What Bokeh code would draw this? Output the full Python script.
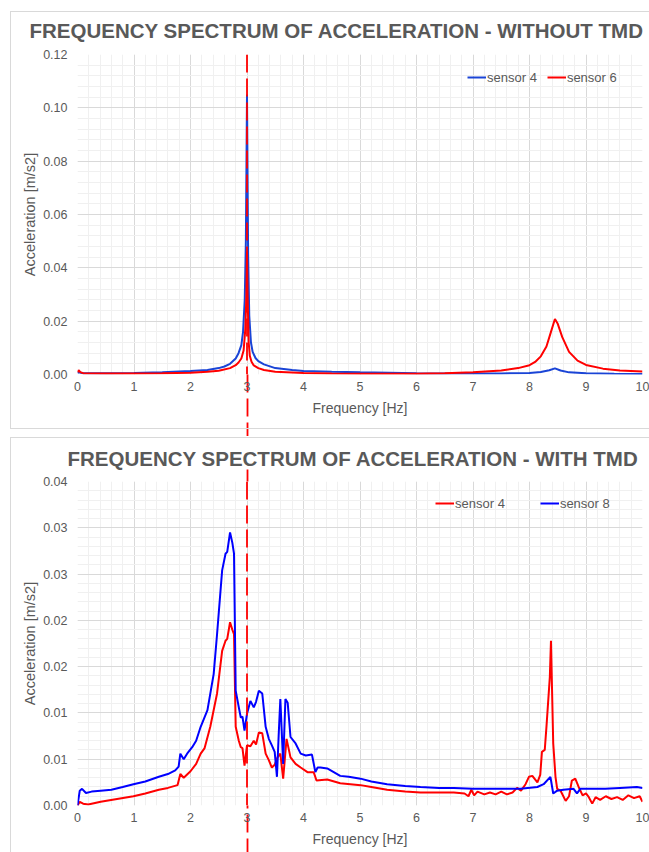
from bokeh.plotting import figure
from bokeh.layouts import column
from bokeh.models import (Range1d, Legend, LegendItem, FixedTicker, LinearAxis, Span,
                          InlineStyleSheet)
from bokeh.embed import file_html
from bokeh.resources import INLINE

# ---------------- DATA ----------------
title_top = "FREQUENCY SPECTRUM OF ACCELERATION - WITHOUT TMD"
title_bot = "FREQUENCY SPECTRUM OF ACCELERATION - WITH TMD"
x_label = "Frequency [Hz]"
y_label = "Acceleration [m/s2]"
x_ticks = [0, 1, 2, 3, 4, 5, 6, 7, 8, 9, 10]
top_y_ticks = [0.0, 0.02, 0.04, 0.06, 0.08, 0.10, 0.12]
top_y_labels = ["0.00", "0.02", "0.04", "0.06", "0.08", "0.10", "0.12"]
bot_y_ticks = [0.0, 0.005, 0.010, 0.015, 0.020, 0.025, 0.030, 0.035]
bot_y_labels = ["0.00", "0.01", "0.01", "0.02", "0.02", "0.03", "0.03", "0.04"]
marker_freq = 3.0

# Without TMD - sensor 4 (blue)
top_s4_f = [0, 0.02, 0.1, 0.5, 1.0, 1.5, 2.0, 2.3, 2.5, 2.6, 2.7, 2.8, 2.85, 2.9, 2.93,
            2.96, 2.98, 3.0, 3.02, 3.04, 3.07, 3.1, 3.15, 3.2, 3.3, 3.5, 3.8, 4.0, 4.5,
            5.0, 5.5, 6.0, 6.5, 7.0, 7.5, 8.0, 8.2, 8.35, 8.45, 8.55, 8.7, 9.0, 9.5, 10.0]
top_s4_v = [0.0006, 0.0008, 0.0005, 0.0005, 0.0006, 0.0008, 0.0013, 0.0017, 0.0024, 0.003,
            0.004, 0.006, 0.008, 0.011, 0.016, 0.028, 0.05, 0.105, 0.045, 0.022, 0.012,
            0.0085, 0.0062, 0.005, 0.0038, 0.0024, 0.0017, 0.0013, 0.001, 0.0008, 0.0007,
            0.0005, 0.0004, 0.0004, 0.0004, 0.0006, 0.0009, 0.0016, 0.0023, 0.0015,
            0.0008, 0.0005, 0.0003, 0.0002]
# Without TMD - sensor 6 (red)
top_s6_f = [0, 0.02, 0.05, 0.1, 0.5, 1.0, 1.5, 2.0, 2.3, 2.5, 2.7, 2.8, 2.85, 2.9, 2.94,
            2.97, 2.99, 3.0, 3.01, 3.03, 3.05, 3.08, 3.12, 3.2, 3.3, 3.5, 4.0, 4.5, 5.0,
            5.5, 6.0, 6.5, 7.0, 7.5, 7.8, 8.0, 8.1, 8.2, 8.3, 8.38, 8.45, 8.5, 8.58, 8.7,
            8.85, 9.0, 9.3, 9.6, 10.0]
top_s6_v = [0.0008, 0.0016, 0.0009, 0.0005, 0.0004, 0.0004, 0.0005, 0.0007, 0.001, 0.0014,
            0.0024, 0.0035, 0.0045, 0.006, 0.009, 0.017, 0.03, 0.046, 0.03, 0.012, 0.007,
            0.0048, 0.0034, 0.0024, 0.0017, 0.001, 0.0006, 0.0004, 0.0003, 0.0003, 0.0003,
            0.0005, 0.0008, 0.0015, 0.0024, 0.0035, 0.0047, 0.0068, 0.0105, 0.016, 0.0208,
            0.019, 0.014, 0.0085, 0.0052, 0.0036, 0.0022, 0.0015, 0.0011]

# With TMD - sensor 4 (red)
bot_s4_f = [0, 0.04, 0.1, 0.19, 0.41, 0.7, 0.99, 1.2, 1.44, 1.6, 1.77, 1.82, 1.88, 2.0,
            2.1, 2.18, 2.25, 2.35, 2.47, 2.56, 2.62, 2.65, 2.70, 2.74, 2.77, 2.80, 2.855,
            2.89, 2.92, 2.956, 3.0, 3.06, 3.12, 3.16, 3.21, 3.27, 3.33, 3.386, 3.44, 3.49,
            3.54, 3.59, 3.64, 3.70, 3.77, 3.86, 3.95, 4.07, 4.18, 4.23, 4.42, 4.65, 5.01,
            5.2, 5.48, 5.8, 6.07, 6.4, 6.66, 6.85, 6.92, 6.97, 7.02, 7.08, 7.2, 7.3, 7.4,
            7.5, 7.6, 7.7, 7.78, 7.85, 7.93, 7.99, 8.05, 8.14, 8.19, 8.22, 8.27, 8.30,
            8.36, 8.38, 8.42, 8.46, 8.49, 8.55, 8.64, 8.7, 8.75, 8.81, 8.87, 8.94, 9.0,
            9.05, 9.11, 9.17, 9.25, 9.35, 9.45, 9.55, 9.65, 9.75, 9.85, 9.95, 10.0]
bot_s4_v = [0, 0.0004, 0.0002, 0.0001, 0.0004, 0.0007, 0.001, 0.0013, 0.0017, 0.0019,
            0.0022, 0.0034, 0.003, 0.0037, 0.0045, 0.0056, 0.0062, 0.0085, 0.0121, 0.0167,
            0.0178, 0.018, 0.0198, 0.019, 0.0185, 0.0085, 0.007, 0.0063, 0.0062, 0.0043,
            0.0065, 0.0064, 0.007, 0.0066, 0.0079, 0.0078, 0.0056, 0.0049, 0.0041, 0.0044,
            0.0052, 0.0056, 0.0029, 0.0072, 0.0052, 0.0045, 0.0041, 0.0036, 0.0036, 0.0027,
            0.0028, 0.0024, 0.0022, 0.002, 0.0017, 0.0015, 0.0014, 0.0014, 0.0014, 0.0013,
            0.001, 0.0017, 0.0011, 0.0015, 0.0012, 0.0014, 0.0012, 0.0015, 0.0012, 0.0014,
            0.0019, 0.0016, 0.0023, 0.0031, 0.0032, 0.0025, 0.0033, 0.0058, 0.006, 0.0085,
            0.0139, 0.0178, 0.0067, 0.0031, 0.0018, 0.0016, 0.0005, 0.001, 0.0027, 0.0029,
            0.002, 0.0011, 0.0013, 0.0009, 0.0002, 0.0009, 0.0006, 0.001, 0.0007, 0.0009,
            0.0006, 0.0011, 0.0008, 0.001, 0.0004]
# With TMD - sensor 8 (blue)
bot_s8_f = [0, 0.04, 0.08, 0.15, 0.25, 0.41, 0.6, 0.8, 0.99, 1.2, 1.44, 1.6, 1.73, 1.79,
            1.82, 1.88, 1.94, 2.03, 2.1, 2.18, 2.3, 2.41, 2.47, 2.56, 2.62, 2.65, 2.70,
            2.74, 2.77, 2.80, 2.855, 2.89, 2.92, 2.956, 3.0, 3.06, 3.12, 3.16, 3.21, 3.27,
            3.33, 3.386, 3.44, 3.49, 3.53, 3.56, 3.59, 3.64, 3.68, 3.72, 3.77, 3.86, 3.95,
            4.04, 4.15, 4.21, 4.25, 4.3, 4.42, 4.65, 4.8, 5.01, 5.2, 5.48, 5.8, 6.07, 6.4,
            6.66, 7.0, 7.25, 7.5, 7.84, 8.14, 8.25, 8.37, 8.42, 8.49, 8.6, 8.78, 8.84, 8.9,
            9.1, 9.34, 9.6, 9.9, 10.0]
bot_s8_v = [0, 0.0016, 0.0018, 0.00135, 0.0015, 0.0016, 0.0017, 0.002, 0.0023, 0.0026,
            0.0031, 0.0034, 0.0038, 0.0042, 0.0056, 0.005, 0.0056, 0.0063, 0.007, 0.0085,
            0.0103, 0.0142, 0.0185, 0.0254, 0.0272, 0.0274, 0.0295, 0.0284, 0.0272, 0.0124,
            0.0106, 0.0095, 0.0096, 0.0081, 0.0099, 0.0113, 0.0106, 0.0112, 0.0124, 0.0121,
            0.0085, 0.0072, 0.0065, 0.0058, 0.0031, 0.0075, 0.0115, 0.0045, 0.0115, 0.0111,
            0.0074, 0.0067, 0.0056, 0.0054, 0.0055, 0.0036, 0.0041, 0.0041, 0.004, 0.0032,
            0.0031, 0.0029, 0.0026, 0.0023, 0.0021, 0.002, 0.0019, 0.0019, 0.0018, 0.0018,
            0.0018, 0.0018, 0.002, 0.0023, 0.0031, 0.0013, 0.0016, 0.0017, 0.0018, 0.0013,
            0.0018, 0.0018, 0.0018, 0.0019, 0.002, 0.0019]

# ---------------- STYLE / LAYOUT ----------------
FONT = "Liberation Sans"
TXT = "#595959"
W = 649
BL, BR = 77, 7
RED = "#ff0000"
DASH = "18 6"
DASH_W = 1.8
XLABEL_GAP = 7
TOP_EXT_BOTTOM_CHART = 12   # marker line shows only just above the lower frame

# light outline of each Excel chart area (open on the cropped sides)
CSS_TOP = (":host::after { content: ''; position: absolute; left: 10px; top: 11px; "
           "right: 0px; bottom: 7px; border: 1px solid #d9d9d9; border-right: none; "
           "pointer-events: none; }")
CSS_BOT = (":host::after { content: ''; position: absolute; left: 10px; top: 1px; "
           "right: 0px; bottom: 0px; border: 1px solid #d9d9d9; border-right: none; "
           "border-bottom: none; pointer-events: none; }")


def style_marker_tick(ax, length):
    # the marker line continues outside the frame as a long dashed minor tick at x = 3
    ax.minor_tick_line_color = RED
    ax.minor_tick_line_width = DASH_W
    ax.minor_tick_line_dash = DASH
    ax.minor_tick_out = length
    ax.minor_tick_in = 0


def make_fig(btop, frame_h, bbot, ymax, title, title_offset, title_standoff,
             ticks, labels, minor_step, legend_items_cfg, legend_loc, spacing, top_ext,
             css):
    p = figure(width=W, height=btop + frame_h + bbot, x_range=Range1d(0, 10),
               y_range=Range1d(0, ymax), output_backend="svg", toolbar_location=None,
               min_border_left=BL, min_border_right=BR,
               min_border_top=btop, min_border_bottom=bbot,
               stylesheets=[InlineStyleSheet(css=css)])
    p.outline_line_color = None
    p.background_fill_color = "white"
    p.border_fill_color = "white"
    p.title.text = title
    p.title.text_font = FONT
    p.title.text_font_size = "20.5px"
    p.title.text_font_style = "bold"
    p.title.text_color = TXT
    p.title.align = "left"
    p.title.offset = title_offset
    p.title.standoff = title_standoff

    p.xaxis.ticker = FixedTicker(ticks=x_ticks, minor_ticks=[marker_freq])
    p.xgrid.ticker = FixedTicker(ticks=x_ticks, minor_ticks=[i / 5 for i in range(0, 51)])
    p.yaxis.ticker = FixedTicker(ticks=ticks,
                                 minor_ticks=[i * minor_step for i in range(0, 41)])
    p.yaxis.major_label_overrides = {t: l for t, l in zip(ticks, labels)}
    p.xaxis.major_label_overrides = {t: str(t) for t in x_ticks}
    for ax in (p.xaxis[0], p.yaxis[0]):
        ax.axis_line_color = None
        ax.major_tick_line_color = None
        ax.minor_tick_line_color = None
        ax.major_tick_out = 0
        ax.major_tick_in = 0
        ax.minor_tick_out = 0
        ax.minor_tick_in = 0
        ax.major_label_text_font = FONT
        ax.major_label_text_font_size = "12.5px"
        ax.major_label_text_color = TXT
        ax.axis_label_text_font = FONT
        ax.axis_label_text_font_size = "14px"
        ax.axis_label_text_font_style = "normal"
        ax.axis_label_text_color = TXT
    p.yaxis.axis_label_text_font_size = "14.5px"
    p.xaxis.axis_label = x_label
    p.yaxis.axis_label = y_label
    p.xaxis.axis_label_standoff = 6
    p.yaxis.major_label_standoff = 10
    p.yaxis.axis_label_standoff = 2
    ext_bot = bbot + 4
    style_marker_tick(p.xaxis[0], ext_bot)
    # the long tick would push the labels down: pull them back by the same amount
    p.xaxis.major_label_standoff = XLABEL_GAP - ext_bot

    for g in (p.xgrid[0], p.ygrid[0]):
        g.grid_line_color = "#d9d9d9"
        g.grid_line_width = 1
        g.minor_grid_line_color = "#f0f0f0"
        g.minor_grid_line_width = 1

    items = []
    for label, fx, vy, color in legend_items_cfg:
        r = p.line(fx, vy, line_color=color, line_width=2)
        items.append(LegendItem(label=label, renderers=[r]))
    leg = Legend(items=items, orientation="horizontal", location=legend_loc,
                 border_line_color=None, background_fill_alpha=0, padding=0,
                 margin=0, spacing=spacing, glyph_width=19, glyph_height=16,
                 label_height=16, label_standoff=1, label_text_font=FONT,
                 label_text_font_size="13px", label_text_color=TXT)
    p.add_layout(leg)

    p.add_layout(Span(location=marker_freq, dimension="height", line_color=RED,
                      line_width=DASH_W, line_dash=DASH))
    if top_ext:
        ax = LinearAxis(ticker=FixedTicker(ticks=[marker_freq], minor_ticks=[marker_freq]),
                        axis_line_color=None, major_tick_out=0, major_tick_in=0,
                        major_tick_line_color=None, major_label_standoff=-top_ext,
                        major_label_overrides={marker_freq: " "},
                        major_label_text_font_size="1px")
        style_marker_tick(ax, top_ext)
        p.add_layout(ax, "above")
    return p


top = make_fig(54, 320, 62, 0.12, title_top, -48, 25, top_y_ticks, top_y_labels, 0.004,
               [("sensor 4", top_s4_f, top_s4_v, "#1a44d6"),
                ("sensor 6", top_s6_f, top_s6_v, RED)],
               (390, 289), 10, 0, CSS_TOP)
bot = make_fig(45, 324, 47, 0.035, title_bot, -10, 15, bot_y_ticks, bot_y_labels, 0.001,
               [("sensor 4", bot_s4_f, bot_s4_v, RED),
                ("sensor 8", bot_s8_f, bot_s8_v, "#0000ff")],
               (358, 294), 35, TOP_EXT_BOTTOM_CHART, CSS_BOT)

layout = column(top, bot, spacing=0)
open("out.html", "w").write(file_html(layout, INLINE))
